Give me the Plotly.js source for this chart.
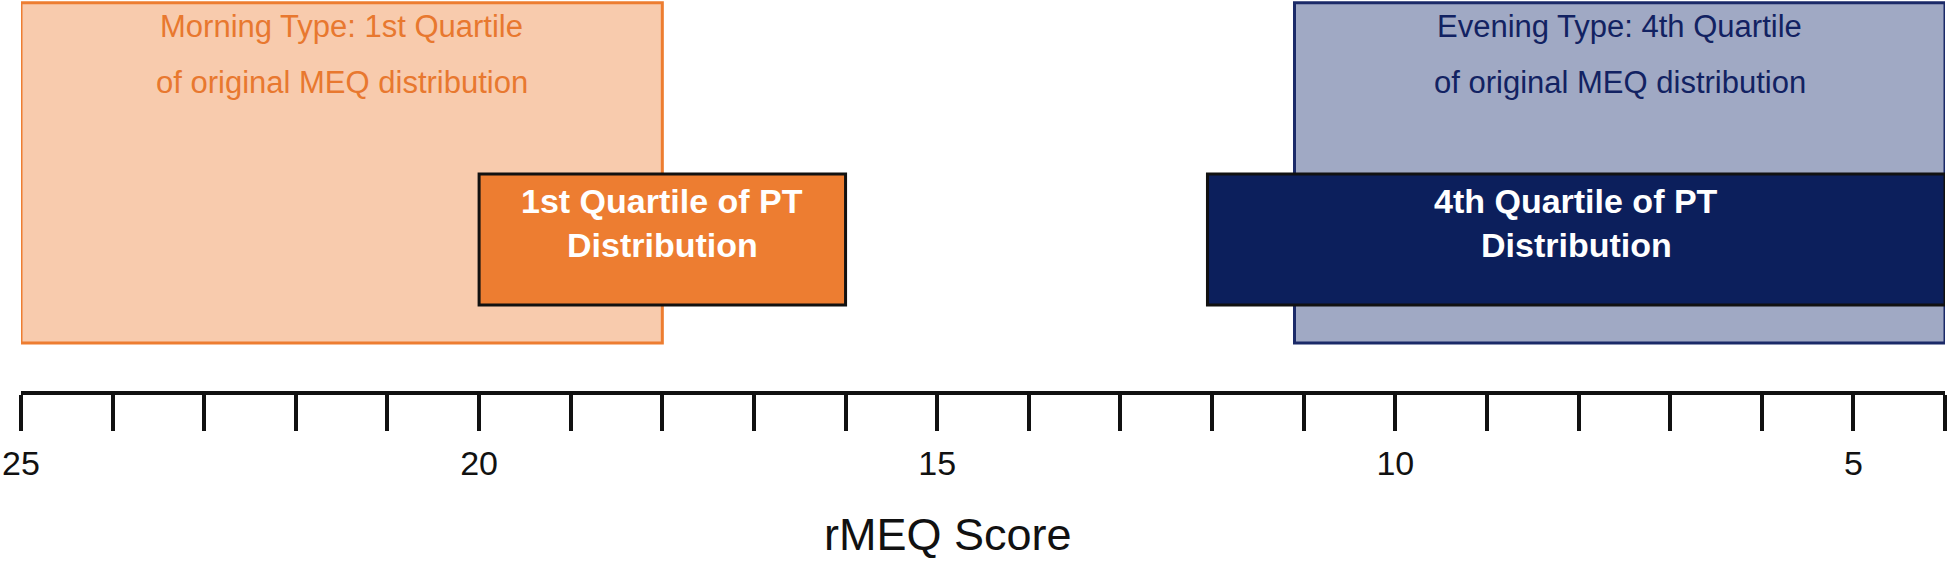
<!DOCTYPE html>
<html>
<head>
<meta charset="utf-8">
<script src="https://cdn.plot.ly/plotly-3.0.1.min.js"></script>
<style>
  html, body { margin: 0; padding: 0; background: #fff; }
  #chart { width: 1950px; height: 563px; }
</style>
</head>
<body>
<div id="chart"></div>
<script>
// rMEQ cut-offs
const typeNames = ['Morning Type: 1st Quartile', 'Evening Type: 4th Quartile'];
const typeSub = ['of original MEQ distribution', 'of original MEQ distribution'];
const typeFrom = [25, 11.1];
const typeTo = [18, 4];

const ptNames = ['1st Quartile of PT', '4th Quartile of PT'];
const ptSub = ['Distribution', 'Distribution'];
const ptFrom = [20, 12.05];
const ptTo = [16, 4];

const tickValues = [25, 24, 23, 22, 21, 20, 19, 18, 17, 16, 15, 14, 13, 12, 11, 10, 9, 8, 7, 6, 5, 4];
const tickLabels = ['25', '', '', '', '', '20', '', '', '', '', '15', '', '', '', '', '10', '', '', '', '', '5', ''];

const typeFill = ['#F8CBAD', '#A0A9C4'];
const typeLine = ['#ED7D31', '#1B2A68'];
const typeText = ['#E8782F', '#122262'];
const ptFill = ['#ED7D31', '#0C1F5C'];

const FONT = 'Liberation Sans, Arial, sans-serif';

const shapes = [];
const annotations = [];

typeFrom.forEach((x0, i) => {
  shapes.push({
    type: 'rect', xref: 'x', yref: 'y',
    x0: x0, x1: typeTo[i], y0: 12.3, y1: 99.3,
    fillcolor: typeFill[i],
    line: { color: typeLine[i], width: 3 },
    layer: 'above'
  });
  const cx = (x0 + typeTo[i]) / 2;
  annotations.push({
    xref: 'x', yref: 'y', x: cx, y: 93.2, text: typeNames[i], showarrow: false,
    font: { family: FONT, size: 31, color: typeText[i] }
  });
  annotations.push({
    xref: 'x', yref: 'y', x: cx, y: 79.0, text: typeSub[i], showarrow: false,
    font: { family: FONT, size: 31, color: typeText[i] }
  });
});

ptFrom.forEach((x0, i) => {
  shapes.push({
    type: 'rect', xref: 'x', yref: 'y',
    x0: x0, x1: ptTo[i], y0: 22.0, y1: 55.5,
    fillcolor: ptFill[i],
    line: { color: '#111111', width: 3 },
    layer: 'above'
  });
  const cx = (x0 + ptTo[i]) / 2;
  annotations.push({
    xref: 'x', yref: 'y', x: cx, y: 48.6, text: '<b>' + ptNames[i] + '</b>', showarrow: false,
    font: { family: FONT, size: 34, color: '#ffffff' }
  });
  annotations.push({
    xref: 'x', yref: 'y', x: cx, y: 37.3, text: '<b>' + ptSub[i] + '</b>', showarrow: false,
    font: { family: FONT, size: 34, color: '#ffffff' }
  });
});

// axis title sits just right of the 15 tick in the original
annotations.push({
  xref: 'x', yref: 'paper', x: 14.88, y: 0, yshift: -143, yanchor: 'middle',
  text: 'rMEQ Score', showarrow: false,
  font: { family: FONT, size: 45, color: '#111111' }
});

const layout = {
  width: 1950,
  height: 563,
  margin: { l: 21, r: 5, t: 0, b: 172 },
  paper_bgcolor: '#ffffff',
  plot_bgcolor: '#ffffff',
  showlegend: false,
  xaxis: {
    range: [25, 4],
    tickvals: tickValues,
    ticktext: tickLabels,
    ticks: 'outside',
    ticklen: 36,
    tickwidth: 4,
    tickcolor: '#111111',
    showline: true,
    linewidth: 4,
    linecolor: '#111111',
    showgrid: false,
    zeroline: false,
    ticklabelstandoff: 3,
    tickfont: { family: FONT, size: 34, color: '#111111' },
    fixedrange: true
  },
  yaxis: {
    range: [0, 100],
    visible: false,
    showgrid: false,
    zeroline: false,
    fixedrange: true
  },
  shapes: shapes,
  annotations: annotations
};

Plotly.newPlot('chart', [{ x: [], y: [], type: 'scatter', hoverinfo: 'skip' }], layout, { staticPlot: true });
</script>
</body>
</html>
